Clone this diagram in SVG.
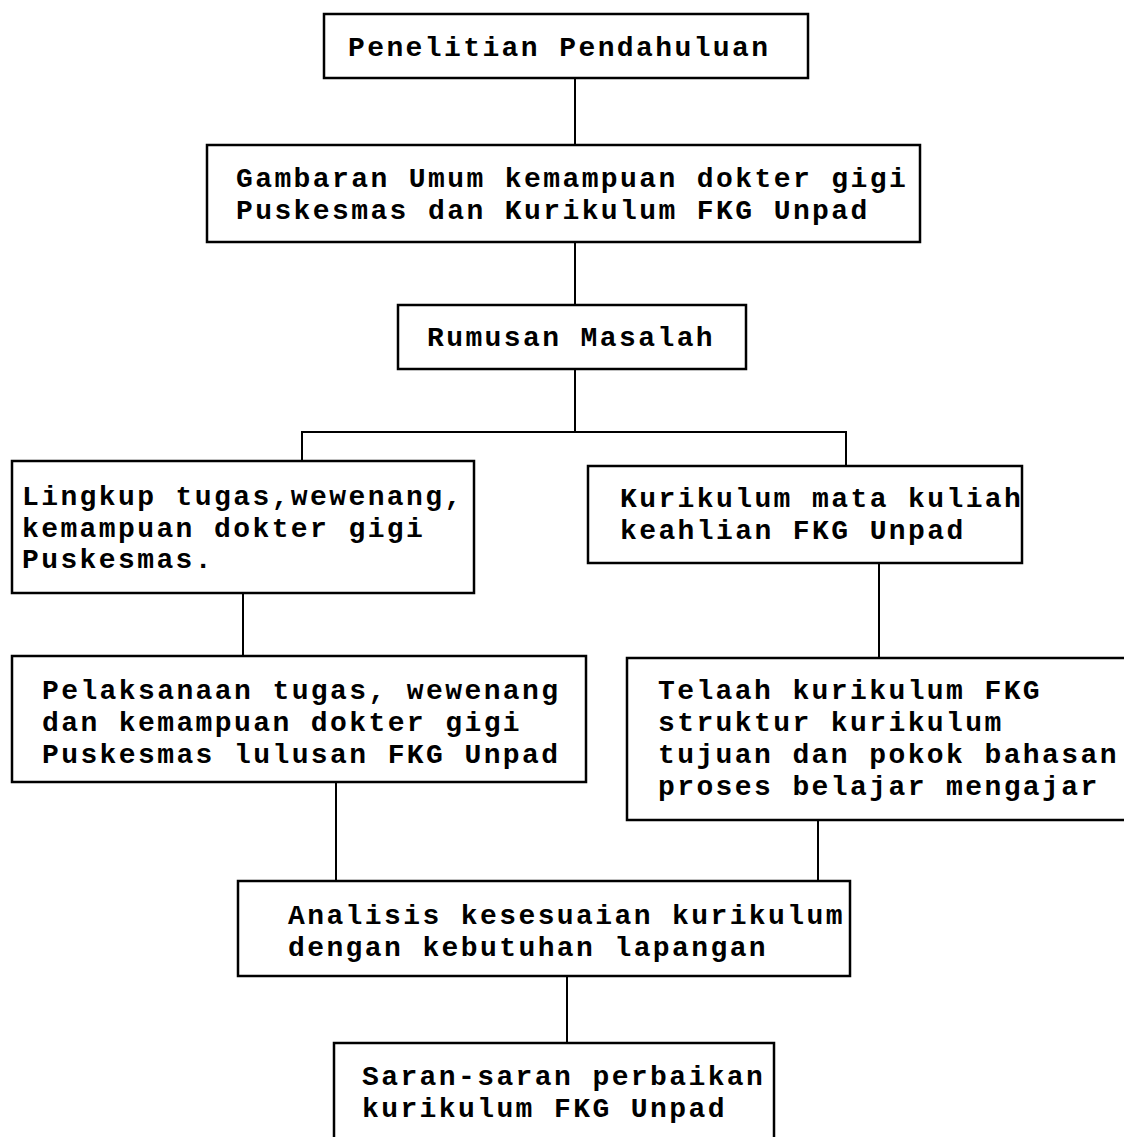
<svg xmlns="http://www.w3.org/2000/svg" width="1124" height="1137" viewBox="0 0 1124 1137">
<style>
rect.box{fill:#fff;stroke:#000;stroke-width:2.5}
.conn line{stroke:#000;stroke-width:2}
text{font-family:"Liberation Mono","Courier New",monospace;font-size:28px;letter-spacing:2.4px;font-weight:bold;fill:#000}
</style>
<rect width="1124" height="1137" fill="#fff"/>
<g class="conn" id="connectors">
<line x1="575" y1="78" x2="575" y2="145"/>
<line x1="575" y1="242" x2="575" y2="305"/>
<line x1="575" y1="369" x2="575" y2="432"/>
<line x1="301" y1="432" x2="847" y2="432"/>
<line x1="302" y1="431" x2="302" y2="461"/>
<line x1="846" y1="431" x2="846" y2="466"/>
<line x1="243" y1="593" x2="243" y2="656"/>
<line x1="879" y1="563" x2="879" y2="658"/>
<line x1="336" y1="782" x2="336" y2="881"/>
<line x1="818" y1="820" x2="818" y2="881"/>
<line x1="567" y1="976" x2="567" y2="1043"/>
</g>
<g id="n1"><rect class="box" x="324" y="14" width="484" height="64"/><text x="348" y="56">Penelitian Pendahuluan</text></g>
<g id="n2"><rect class="box" x="207" y="145" width="713" height="97"/><text x="236" y="187">Gambaran Umum kemampuan dokter gigi</text><text x="236" y="219">Puskesmas dan Kurikulum FKG Unpad</text></g>
<g id="n3"><rect class="box" x="398" y="305" width="348" height="64"/><text x="427" y="346">Rumusan Masalah</text></g>
<g id="n4"><rect class="box" x="12" y="461" width="462" height="132"/><text x="22" y="505">Lingkup tugas,wewenang,</text><text x="22" y="537">kemampuan dokter gigi</text><text x="22" y="568">Puskesmas.</text></g>
<g id="n5"><rect class="box" x="588" y="466" width="434" height="97"/><text x="620" y="507">Kurikulum mata kuliah</text><text x="620" y="539">keahlian FKG Unpad</text></g>
<g id="n6"><rect class="box" x="12" y="656" width="574" height="126"/><text x="42" y="699">Pelaksanaan tugas, wewenang</text><text x="42" y="731">dan kemampuan dokter gigi</text><text x="42" y="763">Puskesmas lulusan FKG Unpad</text></g>
<g id="n7"><rect class="box" x="627" y="658" width="510" height="162"/><text x="658" y="699">Telaah kurikulum FKG</text><text x="658" y="731">struktur kurikulum</text><text x="658" y="763">tujuan dan pokok bahasan</text><text x="658" y="795">proses belajar mengajar</text></g>
<g id="n8"><rect class="box" x="238" y="881" width="612" height="95"/><text x="288" y="924">Analisis kesesuaian kurikulum</text><text x="288" y="956">dengan kebutuhan lapangan</text></g>
<g id="n9"><rect class="box" x="334" y="1043" width="440" height="110"/><text x="362" y="1085">Saran-saran perbaikan</text><text x="362" y="1117">kurikulum FKG Unpad</text></g>
</svg>
